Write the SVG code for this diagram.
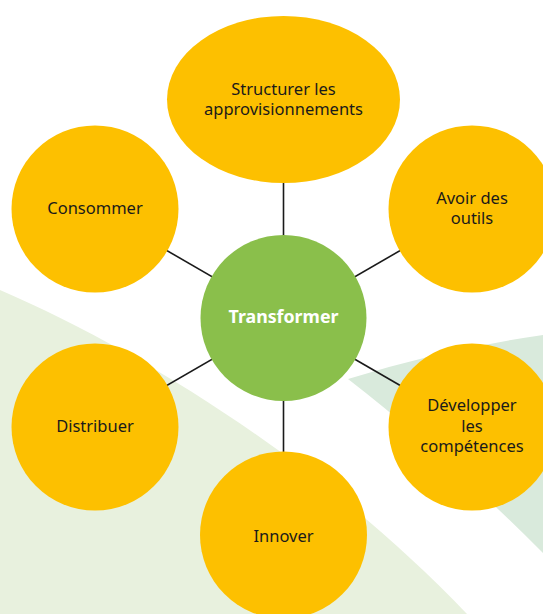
<svg xmlns="http://www.w3.org/2000/svg" width="543" height="614" viewBox="0 0 543 614">
<style>
.bub{fill:#fdc000}
.lbl{font-family:"Noto Sans","DejaVu Sans",sans-serif;font-size:16.5px;fill:#1a1a1a;text-anchor:middle}
.ctr{font-family:"Noto Sans","DejaVu Sans",sans-serif;font-size:17.8px;font-weight:bold;fill:#ffffff;text-anchor:middle}
.link{stroke:#1a1a1a;stroke-width:1.6;fill:none}
</style>
<rect width="543" height="614" fill="#ffffff"/>
<g id="background">
<path d="M0,290 C150,355 330,470 467,614 L0,614 Z" fill="#e8f1de"/>
<path d="M348,379 Q440,350 543,335 L543,553 Q440,450 348,379 Z" fill="#d9eadc"/>
</g>
<g id="connectors">
<line class="link" x1="283.5" y1="318" x2="283.5" y2="99.5"/>
<line class="link" x1="283.5" y1="318" x2="283.5" y2="535"/>
<line class="link" x1="283.5" y1="318" x2="95" y2="209"/>
<line class="link" x1="283.5" y1="318" x2="95" y2="427"/>
<line class="link" x1="283.5" y1="318" x2="472" y2="209"/>
<line class="link" x1="283.5" y1="318" x2="472" y2="427"/>
</g>
<g id="structurer">
<ellipse class="bub" cx="283.5" cy="99.5" rx="116.5" ry="83.5"/>
<text class="lbl" x="283.5" y="95">Structurer les</text>
<text class="lbl" x="283.5" y="115">approvisionnements</text>
</g>
<g id="consommer">
<circle class="bub" cx="95" cy="209" r="83.5"/>
<text class="lbl" x="95" y="214">Consommer</text>
</g>
<g id="outils">
<circle class="bub" cx="472" cy="209" r="83.5"/>
<text class="lbl" x="472" y="204">Avoir des</text>
<text class="lbl" x="472" y="223.5">outils</text>
</g>
<g id="distribuer">
<circle class="bub" cx="95" cy="427" r="83.5"/>
<text class="lbl" x="95" y="432">Distribuer</text>
</g>
<g id="competences">
<circle class="bub" cx="472" cy="427" r="83.5"/>
<text class="lbl" x="472" y="410.5">Développer</text>
<text class="lbl" x="472" y="431.5">les</text>
<text class="lbl" x="472" y="451.5">compétences</text>
</g>
<g id="innover">
<circle class="bub" cx="283.5" cy="535" r="83.5"/>
<text class="lbl" x="283.5" y="541.5">Innover</text>
</g>
<g id="transformer">
<circle cx="283.5" cy="318" r="83" fill="#8abf4b"/>
<text class="ctr" x="283.5" y="323">Transformer</text>
</g>
</svg>
